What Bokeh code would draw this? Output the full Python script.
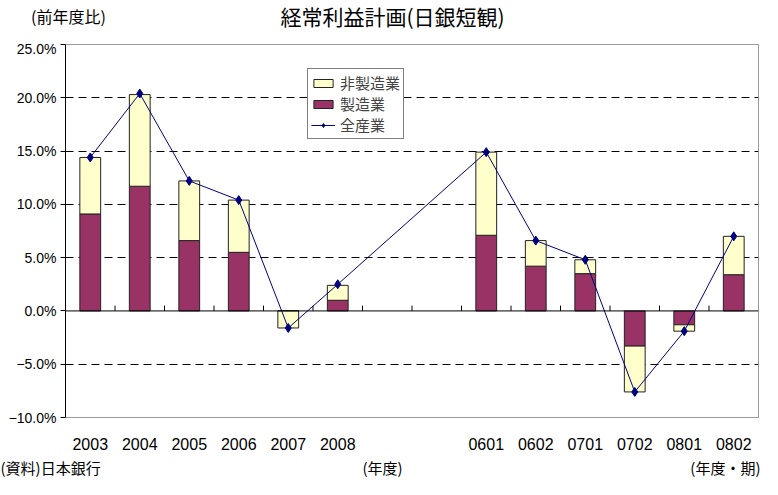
from bokeh.plotting import figure
from bokeh.layouts import column
from bokeh.models import (ColumnDataSource, FactorRange, FixedTicker, Label, Legend,
                          LegendItem, Span, Range1d)
from bokeh.embed import file_html
from bokeh.resources import INLINE

# ---- data ----
categories = ["2003", "2004", "2005", "2006", "2007", "2008",
              " ", "  ",
              "0601", "0602", "0701", "0702", "0801", "0802"]
bar_categories = ["2003", "2004", "2005", "2006", "2007", "2008",
                  "0601", "0602", "0701", "0702", "0801", "0802"]
manufacturing = [9.1, 11.7, 6.6, 5.5, 0.0, 1.0, 7.1, 4.2, 3.5, -3.3, -1.3, 3.4]
non_manufacturing = [5.3, 8.6, 5.6, 4.9, -1.6, 1.4, 7.8, 2.4, 1.3, -4.3, -0.6, 3.6]
all_industries = [14.4, 20.4, 12.2, 10.4, -1.6, 2.5, 14.9, 6.6, 4.8, -7.6, -1.9, 7.0]
y_ticks = [-10, -5, 0, 5, 10, 15, 20, 25]
y_tick_labels = ["\u221210.0%", "\u22125.0%", "0.0%", "5.0%", "10.0%", "15.0%", "20.0%", "25.0%"]
y_min, y_max = -10, 25

title_text = "経常利益計画(日銀短観)"
unit_text = "(前年度比)"
source_text = "(資料)日本銀行"
axis_note_1 = "(年度)"
axis_note_2 = "(年度・期)"

JP = "Noto Sans CJK JP"
NUM = "Liberation Sans"

# ---- layout (pixels) ----
W = 762
TOP_H, MAIN_H, BOT_H = 40, 415, 24
BL, BR, BT, BB = 65, 4, 4, 35


def no_frame_align(f):
    if "frame_align" in f.properties():
        f.frame_align = False


def text_strip(height):
    f = figure(width=W, height=height, x_range=Range1d(0, W), y_range=Range1d(0, height),
               output_backend="svg", toolbar_location=None, x_axis_type=None,
               y_axis_type=None, min_border=0)
    f.min_border_left = f.min_border_right = f.min_border_top = f.min_border_bottom = 0
    f.outline_line_color = None
    f.grid.grid_line_color = None
    f.background_fill_color = "white"
    f.border_fill_color = "white"
    no_frame_align(f)
    return f


# ---- top strip: title + unit ----
top = text_strip(TOP_H)
top.add_layout(Label(x=392, y=TOP_H - 15, text=title_text, text_align="center",
                     text_baseline="middle", text_font=JP, text_font_size="21px",
                     text_color="black"))
top.add_layout(Label(x=68, y=TOP_H - 15, text=unit_text, text_align="center",
                     text_baseline="middle", text_font=JP, text_font_size="16px",
                     text_color="black"))

# ---- main chart ----
p = figure(width=W, height=MAIN_H, x_range=FactorRange(*categories, range_padding=0),
           y_range=(y_min, y_max), output_backend="svg", toolbar_location=None,
           min_border_left=BL, min_border_right=BR, min_border_top=BT, min_border_bottom=BB)
no_frame_align(p)
p.background_fill_color = "white"
p.border_fill_color = "white"
p.outline_line_color = "#9a9a9a"

src = ColumnDataSource(dict(cat=bar_categories, mfg=manufacturing, non=non_manufacturing,
                            total=all_industries))

bars = p.vbar_stack(["mfg", "non"], x="cat", width=0.42, source=src,
                    fill_color=["#993366", "#FFFFCC"], line_color="#222222", line_width=1)

p.add_layout(Span(location=0, dimension="width", line_color="black", line_width=1))
bounds = list(range(1, len(categories)))
p.segment(x0=bounds, y0=[0] * len(bounds), x1=bounds, y1=[0.5] * len(bounds),
          line_color="black", line_width=1)

line_r = p.line(x="cat", y="total", source=src, line_color="#000080", line_width=1)
pts_r = p.scatter(x="cat", y="total", source=src, marker="diamond", size=9,
                  fill_color="#000080", line_color="#000080")

p.xaxis.axis_line_color = None
p.xaxis.major_tick_line_color = None
p.xaxis.minor_tick_line_color = None
p.xaxis.major_label_standoff = 12
p.xaxis.major_label_text_font = NUM
p.xaxis.major_label_text_font_size = "16px"
p.xaxis.major_label_text_color = "black"

p.yaxis.ticker = FixedTicker(ticks=y_ticks)
p.yaxis.major_label_overrides = {t: l for t, l in zip(y_ticks, y_tick_labels)}
p.yaxis.axis_line_color = "black"
p.yaxis.major_tick_out = 5
p.yaxis.major_tick_in = 0
p.yaxis.minor_tick_line_color = None
p.yaxis.major_label_standoff = 4
p.yaxis.major_label_text_font = NUM
p.yaxis.major_label_text_font_size = "14px"
p.yaxis.major_label_text_color = "black"

p.xgrid.grid_line_color = None
p.ygrid.ticker = FixedTicker(ticks=[-5, 5, 10, 15, 20])
p.ygrid.grid_line_color = "black"
p.ygrid.grid_line_dash = "8 5"
p.ygrid.grid_line_width = 1

legend = Legend(items=[
    LegendItem(label="非製造業", renderers=[bars[1]]),
    LegendItem(label="製造業", renderers=[bars[0]]),
    LegendItem(label="全産業", renderers=[line_r, pts_r]),
], location=(242, 278))
legend.label_text_font = JP
legend.label_text_font_size = "15px"
legend.label_height = 21
legend.glyph_height = 10
legend.glyph_width = 24
legend.spacing = 0
legend.padding = 3
legend.margin = 0
legend.label_standoff = 5
legend.border_line_color = "black"
legend.border_line_width = 1
legend.background_fill_alpha = 1
p.add_layout(legend, "center")

# ---- bottom strip: notes ----
bot = text_strip(BOT_H)
bot.add_layout(Label(x=0, y=BOT_H / 2, text=source_text, text_align="left",
                     text_baseline="middle", text_font=JP, text_font_size="15px",
                     text_color="black"))
bot.add_layout(Label(x=382, y=BOT_H / 2, text=axis_note_1, text_align="center",
                     text_baseline="middle", text_font=JP, text_font_size="15px",
                     text_color="black"))
bot.add_layout(Label(x=760, y=BOT_H / 2, text=axis_note_2, text_align="right",
                     text_baseline="middle", text_font=JP, text_font_size="15px",
                     text_color="black"))

layout = column(top, p, bot, spacing=0)
open("out.html", "w").write(file_html(layout, INLINE))
